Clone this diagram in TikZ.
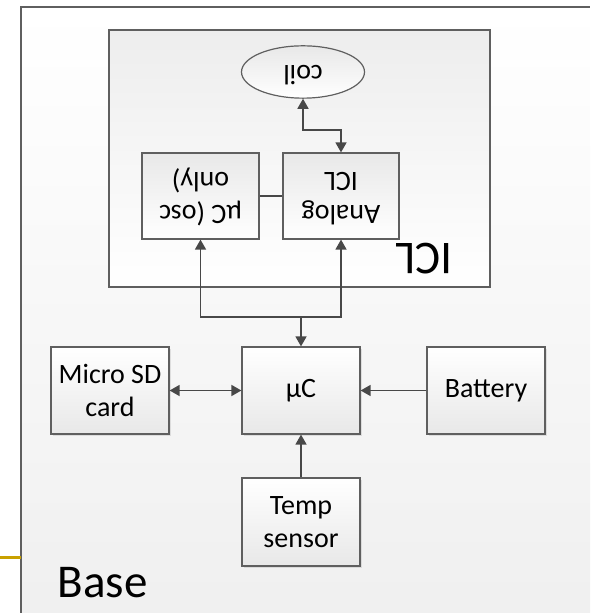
\documentclass[tikz,border=0pt]{standalone}
\usepackage{fontspec}
\setmainfont{Carlito}
\usepackage{graphicx}
\usetikzlibrary{arrows.meta,shapes.geometric,shadows}
\definecolor{edgegrey}{RGB}{95,95,95}
\definecolor{wiregrey}{RGB}{72,72,72}
\definecolor{ochre}{RGB}{201,161,0}
\newcommand{\flipped}[1]{\rotatebox[origin=c]{180}{\begin{tabular}{@{}c@{}}#1\end{tabular}}}
\begin{document}
\begin{tikzpicture}[x=0.5pt,y=-0.5pt,>={Triangle[length=5pt,width=5.5pt]},
	block/.style={draw=edgegrey,line width=0.6pt,top color=white,bottom color=black!9,minimum width=59pt,minimum height=43.5pt,align=center,inner sep=1pt,text=black,font=\fontsize{14}{16.5}\selectfont},
	lowblock/.style={block,drop shadow={shadow xshift=0.8pt,shadow yshift=-0.8pt,opacity=0.2}},
	flipblock/.style={block,top color=black!9,bottom color=white},
	link/.style={draw=wiregrey,line width=0.75pt},
	title/.style={text=black,inner sep=0pt,font=\fontsize{23.5}{26}\selectfont}]
	\useasboundingbox (0,0) rectangle (594,613);
	\fill[top color=white,bottom color=black!6] (21,7) rectangle (590,613);
	\draw[edgegrey,line width=0.7pt] (21,613) -- (21,7) -- (590,7);
	\draw[ochre,line width=1.5pt] (0,557) -- (21,557);
	\node[title,anchor=center] (basename) at (102.5,582.5) {Base};
	\node[draw=edgegrey,line width=0.7pt,top color=black!7,bottom color=white,minimum width=190.5pt,minimum height=128.5pt] (iclbox) at (299.5,158.5) {};
	\node[title,anchor=center] (iclname) at (424.5,259) {\rotatebox[origin=c]{180}{ICL}};
	\node[ellipse,block,minimum width=61.5pt,minimum height=20pt,top color=black!9,bottom color=white] (coil) at (303,72) {\flipped{coil}};
	\node[flipblock,minimum width=58pt,minimum height=43pt] (analog) at (341,196) {\flipped{Analog\\ICL}};
	\node[flipblock,minimum width=58.5pt,minimum height=43pt] (osc) at (200.5,196) {\flipped{\textmu C (osc\\only)}};
	\node[lowblock] (mcu) at (301,390.5) {\textmu C};
	\node[lowblock] (sd) at (110,390.5) {Micro SD\\card};
	\node[lowblock] (battery) at (486,390.5) {Battery};
	\node[lowblock,minimum height=44pt] (temp) at (301,522) {Temp\\sensor};
	\coordinate (bus) at (mcu.north |- 0,317);
	\draw[link,<->] (coil.south) -- ++(0,31) -| (analog.north);
	\draw[link] (osc) -- (analog);
	\draw[link,<->] (osc.south) |- (bus) -| (analog.south);
	\draw[link,->] (bus) -- (mcu.north);
	\draw[link,<->] (sd) -- (mcu);
	\draw[link,->] (battery) -- (mcu);
	\draw[link,->] (temp) -- (mcu);
\end{tikzpicture}
\end{document}
